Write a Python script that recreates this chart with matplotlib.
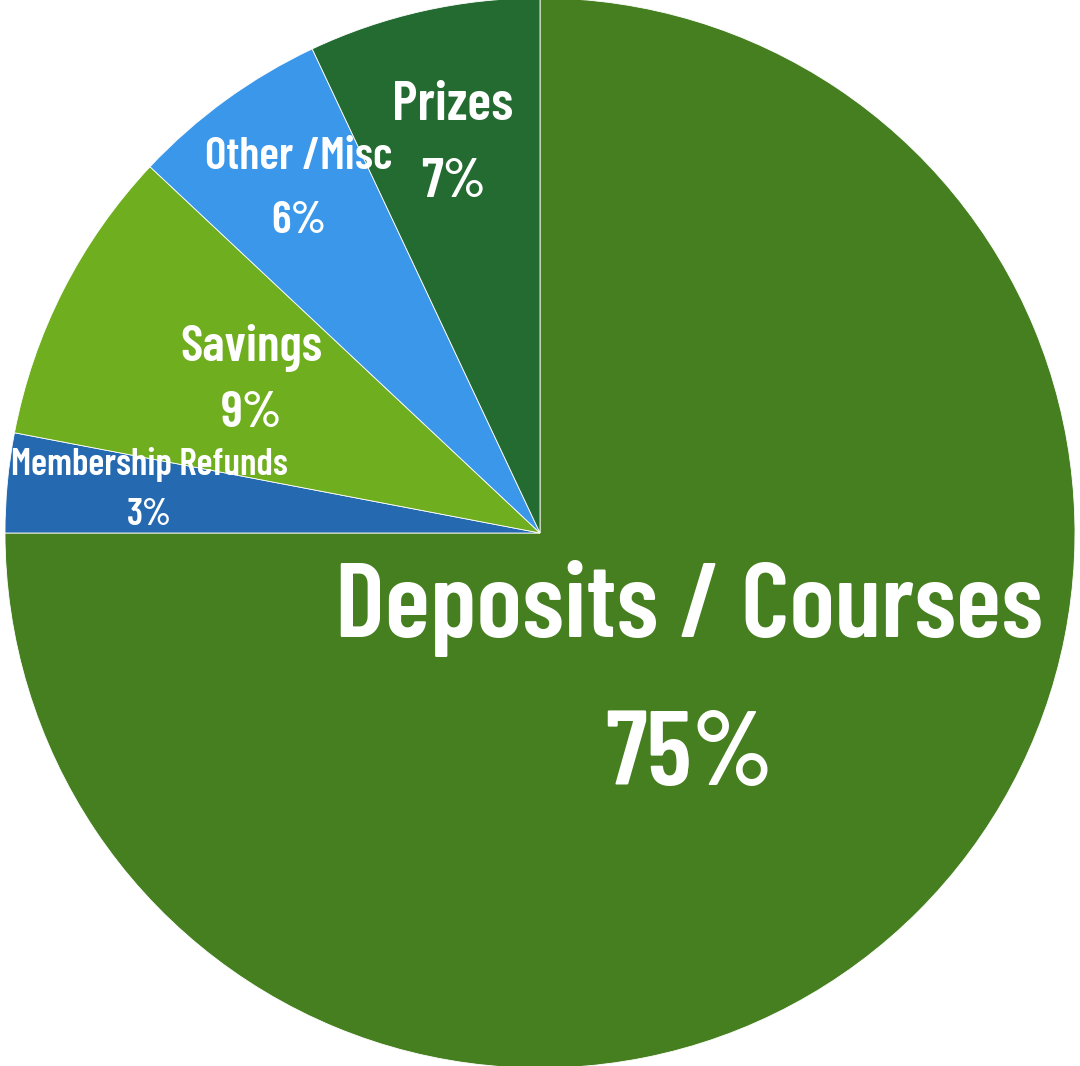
import numpy as np
import matplotlib.pyplot as plt

labels = ["Deposits / Courses", "Membership Refunds", "Savings", "Other /Misc", "Prizes"]
shares = [75, 3, 9, 6, 7]

colors = ["#457f1f", "#2569b1", "#6fae1e", "#3b97ea", "#246b31"]
label_r = [0.395, 0.735, 0.61, 0.785, 0.745]
label_turn = [0.0, 1.0, 1.0, 1.0, 0.0]   # small nudges of the label angle, degrees
label_size = [76, 27, 37, 33, 40]
line_sp = [1.72, 1.6, 1.52, 1.77, 1.73]

plt.rcParams['font.family'] = ['Barlow Condensed', 'DejaVu Sans']

fig = plt.figure(figsize=(10.8, 10.66), dpi=100)
ax = fig.add_axes([0, 0, 1, 1])
ax.axis("off")

wedges, _ = ax.pie(shares, colors=colors, startangle=90, counterclock=False,
                   radius=1.0, wedgeprops=dict(edgecolor="white", linewidth=0.6))

for w, lab, s, r, t, fs, ls in zip(wedges, labels, shares, label_r, label_turn, label_size, line_sp):
    mid = np.deg2rad((w.theta1 + w.theta2) / 2 - t)
    ax.text(r * np.cos(mid), r * np.sin(mid), "%s\n%d%%" % (lab, s),
            ha="center", va="center", color="white", fontsize=fs,
            fontweight=600, linespacing=ls)

# center at (540, 533) px, radius ~535 px
sc = 535.0
ax.set_xlim(-540 / sc, 540 / sc)
ax.set_ylim(-533 / sc, 533 / sc)
ax.set_aspect("auto")

fig.savefig("out.png", dpi=100)
